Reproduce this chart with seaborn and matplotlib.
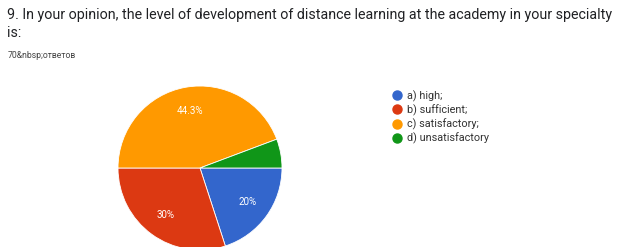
import matplotlib
matplotlib.use("Agg")
import matplotlib.pyplot as plt
from matplotlib.lines import Line2D
import seaborn as sns

categories = ["a) high;", "b) sufficient;", "c) satisfactory;", "d) unsatisfactory"]
counts = [14, 21, 31, 4]
colors = ["#3366cc", "#dc3912", "#ff9900", "#109618"]
title_lines = ["9. In your opinion, the level of development of distance learning at the academy in your specialty", "is:"]
subtitle = "70&nbsp;ответов"

sns.set_theme(style="white")
plt.rcParams['font.family'] = ['Roboto', 'DejaVu Sans']
palette = sns.color_palette(colors)

W, H = 619, 247
fig = plt.figure(figsize=(W / 100, H / 100), dpi=100)
fig.patch.set_facecolor("white")

def fx(px):
    return px / W

def fy(py):
    return 1 - py / H

fig.text(fx(7), fy(15), title_lines[0], fontsize=10.3, color="#202124", va="center", ha="left")
fig.text(fx(7), fy(33), title_lines[1], fontsize=10.3, color="#202124", va="center", ha="left")
fig.text(fx(8), fy(55), subtitle, fontsize=6.2, color="#444444", va="center", ha="left")

cx, cy, r = 200, 168, 82
ax = fig.add_axes([fx(cx - r), fy(cy + r), (2 * r) / W, (2 * r) / H])

def fmt(p):
    if p < 10:
        return ""
    return f"{round(p, 1):g}%"

wedges, texts, autotexts = ax.pie(
    counts, colors=palette, startangle=0, counterclock=False,
    autopct=fmt, pctdistance=0.71,
    wedgeprops=dict(edgecolor="white", linewidth=0.6),
    textprops=dict(color="white", fontsize=7),
)
ax.set_xlim(-1, 1)
ax.set_ylim(-1, 1)
ax.set_axis_off()

handles = [Line2D([0], [0], marker="o", linestyle="", markersize=6.5,
                  markerfacecolor=c, markeredgecolor=c) for c in palette]
leg = fig.legend(handles, categories, loc="upper left",
                 bbox_to_anchor=(fx(392), fy(90)), frameon=False,
                 fontsize=7.8, handletextpad=0.35, labelspacing=0.25,
                 handlelength=1.0, borderaxespad=0, borderpad=0)
for t in leg.get_texts():
    t.set_color("#333333")

fig.savefig("out.png", dpi=100)
